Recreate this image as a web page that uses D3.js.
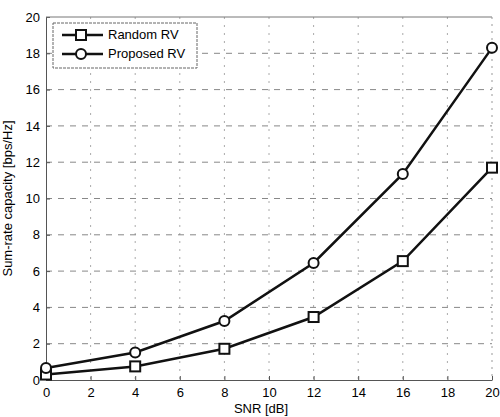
<!DOCTYPE html>
<html>
<head>
<meta charset="utf-8">
<script src="https://cdn.jsdelivr.net/npm/d3@7"></script>
<style>
  body { margin: 0; background: #fff; }
  svg text { font-family: "Liberation Sans", Arial, sans-serif; fill: #000; }
</style>
</head>
<body>
<svg id="chart" width="500" height="417"></svg>
<script>
// Data
var snr        = [0, 4, 8, 12, 16, 20];
var randomRV   = [0.3, 0.75, 1.72, 3.47, 6.55, 11.7];
var proposedRV = [0.66, 1.52, 3.25, 6.45, 11.35, 18.3];
var xTicks     = [0, 2, 4, 6, 8, 10, 12, 14, 16, 18, 20];
var yTicks     = [0, 2, 4, 6, 8, 10, 12, 14, 16, 18, 20];

var margin = { top: 17, right: 8, bottom: 37, left: 46 };
var width  = 500 - margin.left - margin.right;
var height = 417 - margin.top - margin.bottom;

var svg = d3.select("#chart")
            .append("g")
            .attr("transform", "translate(" + margin.left + "," + margin.top + ")");

var x = d3.scaleLinear().domain([0, 20]).range([0, width]);
var y = d3.scaleLinear().domain([0, 20]).range([height, 0]);

// Grid
svg.append("g").selectAll("line").data(xTicks.slice(1, -1)).enter().append("line")
   .attr("x1", function(d) { return x(d); }).attr("x2", function(d) { return x(d); })
   .attr("y1", 0).attr("y2", height)
   .attr("stroke", "#aaa").attr("stroke-width", 1).attr("stroke-dasharray", "2,6");
svg.append("g").selectAll("line").data(yTicks.slice(1, -1)).enter().append("line")
   .attr("y1", function(d) { return y(d); }).attr("y2", function(d) { return y(d); })
   .attr("x1", 0).attr("x2", width)
   .attr("stroke", "#888").attr("stroke-width", 1).attr("stroke-dasharray", "6,6");

// Axes (ticks pointing inward)
var xAxis = svg.append("g").attr("transform", "translate(0," + height + ")")
               .call(d3.axisBottom(x).tickValues(xTicks).tickSizeInner(-4).tickSizeOuter(0).tickPadding(8));
var yAxis = svg.append("g")
               .call(d3.axisLeft(y).tickValues(yTicks).tickSizeInner(-4).tickSizeOuter(0).tickPadding(6));
[xAxis, yAxis].forEach(function(a) {
    a.select(".domain").attr("stroke", "#555");
    a.selectAll(".tick line").attr("stroke", "#555");
    a.selectAll("text").attr("font-size", 13).attr("fill", "#000")
     .attr("font-family", "Liberation Sans, Arial, sans-serif");
});

// Frame top / right
svg.append("line").attr("x1", 0).attr("x2", width).attr("y1", 0).attr("y2", 0).attr("stroke", "#777");
svg.append("line").attr("x1", width).attr("x2", width).attr("y1", 0).attr("y2", height)
   .attr("stroke", "#999").attr("stroke-dasharray", "2,5");

// Axis labels
svg.append("text").attr("x", width / 2 - 8).attr("y", height + 33)
   .attr("text-anchor", "middle").attr("font-size", 13).text("SNR [dB]");
svg.append("text").attr("transform", "translate(" + (-34) + "," + (height / 2) + ") rotate(-90)")
   .attr("text-anchor", "middle").attr("font-size", 13).text("Sum-rate capacity [bps/Hz]");

// Lines
var line = d3.line().x(function(d, i) { return x(snr[i]); }).y(function(d) { return y(d); });
var series = [
    { name: "Random RV",   values: randomRV,   marker: "square" },
    { name: "Proposed RV", values: proposedRV, marker: "circle" }
];

function drawMarker(g, type, cx, cy) {
    if (type === "square") {
        g.append("rect").attr("x", cx - 5).attr("y", cy - 5).attr("width", 10).attr("height", 10)
         .attr("fill", "#fff").attr("stroke", "#111").attr("stroke-width", 2);
    } else {
        g.append("circle").attr("cx", cx).attr("cy", cy).attr("r", 5)
         .attr("fill", "#fff").attr("stroke", "#111").attr("stroke-width", 2);
    }
}

series.forEach(function(s) {
    svg.append("path").datum(s.values).attr("d", line)
       .attr("fill", "none").attr("stroke", "#111").attr("stroke-width", 2.5);
    var g = svg.append("g");
    s.values.forEach(function(v, i) { drawMarker(g, s.marker, x(snr[i]), y(v)); });
});

// Legend
var lg = svg.append("g").attr("transform", "translate(7,6)");
lg.append("rect").attr("x", 0).attr("y", 0).attr("width", 144).attr("height", 45)
  .attr("fill", "#fff").attr("stroke", "#666").attr("stroke-dasharray", "3,1");
series.forEach(function(s, i) {
    var ly = 12 + i * 19;
    lg.append("line").attr("x1", 9).attr("x2", 50).attr("y1", ly).attr("y2", ly)
      .attr("stroke", "#111").attr("stroke-width", 2.5);
    drawMarker(lg, s.marker, 28, ly);
    lg.append("text").attr("x", 55).attr("y", ly + 4).attr("font-size", 13).text(s.name);
});
</script>
</body>
</html>
